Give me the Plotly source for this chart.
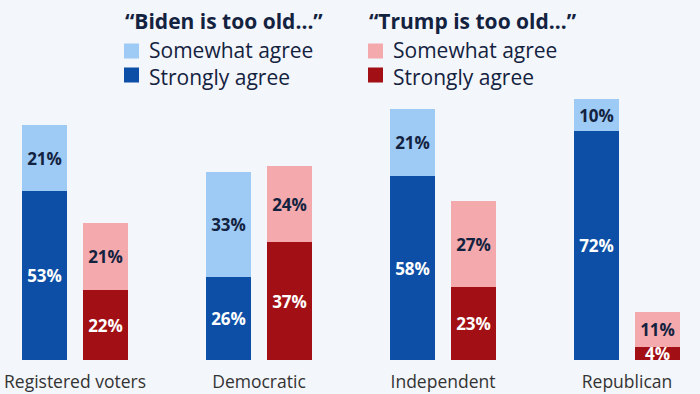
import plotly.graph_objects as go

categories = ["Registered voters", "Democratic", "Independent", "Republican"]
biden_strongly = [53, 26, 58, 72]
biden_somewhat = [21, 33, 21, 10]
trump_strongly = [22, 37, 23, 4]
trump_somewhat = [21, 24, 27, 11]

C_BS = "#0d4fa6"
C_BW = "#9dcbf5"
C_TS = "#a20f14"
C_TW = "#f4a9ac"
DARK = "#13223f"
BG = "#f3f6fa"
FONT = "Open Sans"

W, H = 700, 394
ML, MR, MT, MB = 0, 0, 90, 34
off = 0.167
bw = 0.243
idx = list(range(len(categories)))
xb = [i - off for i in idx]
xt = [i + off for i in idx]

fig = go.Figure()

def add(x, y, color, tcolor, name):
    fig.add_trace(go.Bar(
        x=x, y=y, width=[bw] * len(x), marker=dict(color=color, line=dict(width=0)),
        text=[f"<b>{v}%</b>" for v in y], textposition="inside", insidetextanchor="middle",
        textfont=dict(family=FONT, size=17, color=tcolor), textangle=0,
        name=name, showlegend=False, hoverinfo="skip"))

add(xb, biden_strongly, C_BS, "white", "Biden strongly")
add(xb, biden_somewhat, C_BW, DARK, "Biden somewhat")
add(xt, trump_strongly, C_TS, "white", "Trump strongly")
add(xt, trump_somewhat, C_TW, DARK, "Trump somewhat")

plot_h = H - MT - MB
px_per = 3.18
fig.update_layout(
    width=W, height=H, barmode="stack", bargap=0,
    margin=dict(l=ML, r=MR, t=MT, b=MB),
    paper_bgcolor=BG, plot_bgcolor=BG,
    font=dict(family=FONT, color=DARK),
    xaxis=dict(range=[-75 / 184, (W - 75) / 184], tickvals=idx, ticktext=categories,
               showgrid=False, zeroline=False, showline=False,
               ticks="outside", ticklen=6, tickcolor="rgba(0,0,0,0)",
               tickfont=dict(family=FONT, size=17.5, color="#333333"), fixedrange=True),
    yaxis=dict(range=[0, plot_h / px_per], visible=False, fixedrange=True),
    uniformtext=dict(minsize=10, mode="show"),
)

def px2x(px):
    return px / W

def py2y(py):
    return (H - MB - py) / plot_h

legend_cols = [
    (124, "\u201cBiden is too old\u2026\u201d", C_BW, C_BS),
    (368, "\u201cTrump is too old\u2026\u201d", C_TW, C_TS),
]
for x0, title, cw, cs in legend_cols:
    fig.add_annotation(x=px2x(x0 - 1), y=py2y(21), xref="paper", yref="paper",
                       text=f"<b>{title}</b>", showarrow=False, xanchor="left", yanchor="middle",
                       font=dict(family=FONT, size=21, color=DARK))
    for yc, col in [(51, cw), (75, cs)]:
        fig.add_shape(type="rect", xref="paper", yref="paper",
                      x0=px2x(x0), x1=px2x(x0 + 15), y0=py2y(yc - 7.5), y1=py2y(yc + 7.5),
                      fillcolor=col, line=dict(width=0))
    fig.add_annotation(x=px2x(x0 + 23), y=py2y(64), xref="paper", yref="paper",
                       text="Somewhat agree<br>Strongly agree", showarrow=False,
                       xanchor="left", yanchor="middle", align="left",
                       font=dict(family=FONT, size=21, color=DARK))

fig.write_html("out.html", config={"displayModeBar": False},
               post_script="document.body.style.margin='0';document.body.style.background='%s';" % BG)
